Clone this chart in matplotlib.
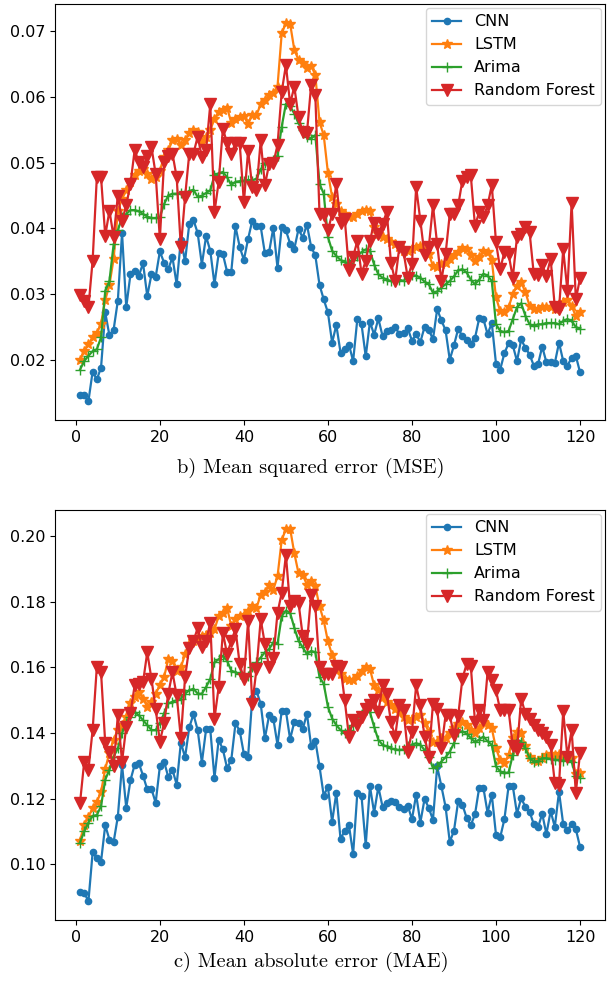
import numpy as np
import matplotlib
matplotlib.use("Agg")
import matplotlib.pyplot as plt

plt.rcParams["font.size"] = 11.5

# time step index
steps = list(range(1, 121))

# b) mean squared error
mse_cnn = [0.0147, 0.0147, 0.0137, 0.0182, 0.0170, 0.0188, 0.0272, 0.0237, 0.0246, 0.0290,
           0.0393, 0.0280, 0.0330, 0.0335, 0.0328, 0.0347, 0.0297, 0.0330, 0.0326, 0.0365,
           0.0348, 0.0338, 0.0356, 0.0315, 0.0383, 0.0350, 0.0407, 0.0413, 0.0393, 0.0345,
           0.0388, 0.0366, 0.0315, 0.0362, 0.0361, 0.0334, 0.0334, 0.0403, 0.0372, 0.0352,
           0.0384, 0.0412, 0.0404, 0.0403, 0.0362, 0.0364, 0.0401, 0.0340, 0.0402, 0.0397,
           0.0377, 0.0369, 0.0399, 0.0386, 0.0406, 0.0372, 0.0359, 0.0314, 0.0292, 0.0272,
           0.0226, 0.0253, 0.0211, 0.0216, 0.0223, 0.0198, 0.0262, 0.0254, 0.0205, 0.0258,
           0.0238, 0.0263, 0.0236, 0.0244, 0.0246, 0.0250, 0.0239, 0.0240, 0.0248, 0.0229,
           0.0239, 0.0227, 0.0250, 0.0246, 0.0231, 0.0277, 0.0260, 0.0245, 0.0200, 0.0222,
           0.0247, 0.0236, 0.0230, 0.0224, 0.0233, 0.0263, 0.0262, 0.0239, 0.0256, 0.0194,
           0.0185, 0.0210, 0.0225, 0.0222, 0.0198, 0.0231, 0.0218, 0.0208, 0.0191, 0.0193,
           0.0220, 0.0196, 0.0196, 0.0195, 0.0226, 0.0198, 0.0191, 0.0203, 0.0206, 0.0181]

mse_lstm = [0.0199, 0.0213, 0.0224, 0.0234, 0.0240, 0.0255, 0.0291, 0.0314, 0.0354, 0.0427,
            0.0445, 0.0458, 0.0471, 0.0481, 0.0488, 0.0491, 0.0483, 0.0476, 0.0478, 0.0488,
            0.0509, 0.0519, 0.0534, 0.0537, 0.0527, 0.0534, 0.0545, 0.0550, 0.0547, 0.0532,
            0.0539, 0.0550, 0.0567, 0.0578, 0.0580, 0.0584, 0.0561, 0.0566, 0.0570, 0.0571,
            0.0559, 0.0573, 0.0573, 0.0589, 0.0596, 0.0603, 0.0607, 0.0616, 0.0697, 0.0713,
            0.0712, 0.0672, 0.0657, 0.0652, 0.0644, 0.0648, 0.0634, 0.0562, 0.0542, 0.0485,
            0.0448, 0.0438, 0.0427, 0.0422, 0.0418, 0.0417, 0.0422, 0.0426, 0.0428, 0.0427,
            0.0402, 0.0392, 0.0387, 0.0384, 0.0380, 0.0376, 0.0371, 0.0366, 0.0366, 0.0369,
            0.0372, 0.0374, 0.0366, 0.0361, 0.0343, 0.0342, 0.0346, 0.0347, 0.0353, 0.0359,
            0.0364, 0.0370, 0.0368, 0.0360, 0.0350, 0.0356, 0.0366, 0.0364, 0.0352, 0.0295,
            0.0274, 0.0273, 0.0280, 0.0300, 0.0313, 0.0318, 0.0303, 0.0282, 0.0277, 0.0277,
            0.0280, 0.0281, 0.0280, 0.0277, 0.0282, 0.0288, 0.0291, 0.0282, 0.0266, 0.0272]

mse_arima = [0.0185, 0.0198, 0.0206, 0.0213, 0.0216, 0.0234, 0.0305, 0.0320, 0.0376, 0.0397,
             0.0417, 0.0422, 0.0428, 0.0428, 0.0426, 0.0422, 0.0418, 0.0416, 0.0416, 0.0417,
             0.0437, 0.0450, 0.0453, 0.0453, 0.0454, 0.0453, 0.0457, 0.0459, 0.0448, 0.0450,
             0.0454, 0.0458, 0.0481, 0.0484, 0.0486, 0.0478, 0.0466, 0.0471, 0.0472, 0.0473,
             0.0474, 0.0473, 0.0476, 0.0490, 0.0499, 0.0501, 0.0504, 0.0511, 0.0555, 0.0590,
             0.0586, 0.0575, 0.0560, 0.0550, 0.0539, 0.0537, 0.0542, 0.0468, 0.0453, 0.0387,
             0.0366, 0.0358, 0.0352, 0.0349, 0.0347, 0.0352, 0.0358, 0.0364, 0.0368, 0.0366,
             0.0345, 0.0330, 0.0325, 0.0322, 0.0320, 0.0320, 0.0322, 0.0320, 0.0327, 0.0329,
             0.0328, 0.0325, 0.0319, 0.0315, 0.0302, 0.0304, 0.0310, 0.0315, 0.0320, 0.0327,
             0.0336, 0.0338, 0.0333, 0.0322, 0.0315, 0.0322, 0.0331, 0.0328, 0.0320, 0.0254,
             0.0244, 0.0242, 0.0244, 0.0262, 0.0280, 0.0286, 0.0267, 0.0254, 0.0251, 0.0254,
             0.0254, 0.0256, 0.0256, 0.0256, 0.0254, 0.0259, 0.0262, 0.0259, 0.0250, 0.0247]

mse_rf = [0.0299, 0.0290, 0.0280, 0.0351, 0.0478, 0.0478, 0.0389, 0.0427, 0.0387, 0.0450,
          0.0412, 0.0435, 0.0468, 0.0519, 0.0501, 0.0494, 0.0510, 0.0524, 0.0483, 0.0384,
          0.0501, 0.0511, 0.0514, 0.0478, 0.0371, 0.0448, 0.0514, 0.0514, 0.0540, 0.0509,
          0.0519, 0.0589, 0.0425, 0.0471, 0.0552, 0.0530, 0.0514, 0.0530, 0.0530, 0.0440,
          0.0518, 0.0463, 0.0459, 0.0534, 0.0466, 0.0498, 0.0499, 0.0527, 0.0608, 0.0649,
          0.0590, 0.0616, 0.0570, 0.0547, 0.0545, 0.0618, 0.0603, 0.0422, 0.0420, 0.0397,
          0.0422, 0.0468, 0.0409, 0.0415, 0.0337, 0.0357, 0.0381, 0.0331, 0.0351, 0.0381,
          0.0409, 0.0392, 0.0407, 0.0425, 0.0348, 0.0320, 0.0372, 0.0364, 0.0325, 0.0346,
          0.0463, 0.0412, 0.0359, 0.0371, 0.0435, 0.0376, 0.0320, 0.0361, 0.0422, 0.0422,
          0.0435, 0.0473, 0.0478, 0.0481, 0.0404, 0.0425, 0.0417, 0.0435, 0.0466, 0.0379,
          0.0338, 0.0364, 0.0361, 0.0325, 0.0387, 0.0392, 0.0402, 0.0394, 0.0330, 0.0329,
          0.0344, 0.0328, 0.0354, 0.0280, 0.0277, 0.0368, 0.0305, 0.0439, 0.0292, 0.0324]

# c) mean absolute error
mae_cnn = [0.0915, 0.0913, 0.0887, 0.1036, 0.1018, 0.1008, 0.1119, 0.1075, 0.1068, 0.1145,
           0.1303, 0.1172, 0.1256, 0.1303, 0.1308, 0.1270, 0.1228, 0.1230, 0.1187, 0.1298,
           0.1313, 0.1266, 0.1288, 0.1243, 0.1371, 0.1326, 0.1417, 0.1457, 0.1409, 0.1310,
           0.1411, 0.1411, 0.1263, 0.1379, 0.1350, 0.1293, 0.1318, 0.1429, 0.1407, 0.1336,
           0.1328, 0.1508, 0.1528, 0.1489, 0.1384, 0.1454, 0.1444, 0.1364, 0.1467, 0.1467,
           0.1381, 0.1434, 0.1431, 0.1411, 0.1459, 0.1361, 0.1377, 0.1298, 0.1209, 0.1236,
           0.1129, 0.1218, 0.1077, 0.1102, 0.1119, 0.1031, 0.1218, 0.1207, 0.1058, 0.1238,
           0.1157, 0.1236, 0.1175, 0.1187, 0.1192, 0.1189, 0.1175, 0.1167, 0.1179, 0.1137,
           0.1212, 0.1127, 0.1199, 0.1172, 0.1135, 0.1298, 0.1238, 0.1175, 0.1068, 0.1102,
           0.1192, 0.1182, 0.1142, 0.1119, 0.1152, 0.1233, 0.1233, 0.1157, 0.1212, 0.1090,
           0.1082, 0.1137, 0.1238, 0.1238, 0.1154, 0.1202, 0.1174, 0.1160, 0.1122, 0.1112,
           0.1154, 0.1092, 0.1162, 0.1114, 0.1221, 0.1122, 0.1104, 0.1122, 0.1107, 0.1053]

mae_lstm = [0.1072, 0.1120, 0.1145, 0.1170, 0.1190, 0.1220, 0.1290, 0.1340, 0.1380, 0.1410,
            0.1425, 0.1450, 0.1490, 0.1510, 0.1525, 0.1505, 0.1480, 0.1495, 0.1520, 0.1545,
            0.1570, 0.1625, 0.1620, 0.1590, 0.1600, 0.1640, 0.1670, 0.1680, 0.1690, 0.1695,
            0.1700, 0.1705, 0.1716, 0.1756, 0.1766, 0.1781, 0.1726, 0.1746, 0.1756, 0.1761,
            0.1773, 0.1786, 0.1781, 0.1822, 0.1830, 0.1852, 0.1837, 0.1877, 0.1988, 0.2021,
            0.2023, 0.1948, 0.1887, 0.1882, 0.1852, 0.1864, 0.1847, 0.1786, 0.1743, 0.1679,
            0.1638, 0.1605, 0.1580, 0.1565, 0.1560, 0.1562, 0.1575, 0.1590, 0.1600, 0.1595,
            0.1545, 0.1530, 0.1510, 0.1494, 0.1484, 0.1474, 0.1464, 0.1449, 0.1439, 0.1444,
            0.1449, 0.1454, 0.1429, 0.1404, 0.1374, 0.1374, 0.1384, 0.1384, 0.1399, 0.1414,
            0.1427, 0.1434, 0.1424, 0.1409, 0.1399, 0.1414, 0.1434, 0.1424, 0.1414, 0.1353,
            0.1318, 0.1308, 0.1333, 0.1384, 0.1404, 0.1399, 0.1359, 0.1328, 0.1318, 0.1315,
            0.1323, 0.1333, 0.1335, 0.1333, 0.1335, 0.1331, 0.1335, 0.1323, 0.1275, 0.1278]

mae_arima = [0.1066, 0.1100, 0.1127, 0.1147, 0.1150, 0.1177, 0.1258, 0.1288, 0.1328, 0.1353,
             0.1400, 0.1430, 0.1450, 0.1464, 0.1454, 0.1439, 0.1424, 0.1409, 0.1409, 0.1430,
             0.1460, 0.1490, 0.1495, 0.1500, 0.1505, 0.1520, 0.1530, 0.1535, 0.1520, 0.1520,
             0.1540, 0.1565, 0.1615, 0.1625, 0.1635, 0.1620, 0.1590, 0.1585, 0.1580, 0.1575,
             0.1575, 0.1600, 0.1615, 0.1630, 0.1646, 0.1656, 0.1676, 0.1671, 0.1756, 0.1773,
             0.1766, 0.1721, 0.1681, 0.1661, 0.1640, 0.1650, 0.1646, 0.1570, 0.1550, 0.1480,
             0.1444, 0.1424, 0.1409, 0.1399, 0.1409, 0.1424, 0.1444, 0.1459, 0.1469, 0.1464,
             0.1419, 0.1379, 0.1364, 0.1359, 0.1353, 0.1350, 0.1348, 0.1350, 0.1359, 0.1364,
             0.1369, 0.1364, 0.1348, 0.1328, 0.1293, 0.1298, 0.1313, 0.1326, 0.1343, 0.1369,
             0.1402, 0.1405, 0.1398, 0.1385, 0.1372, 0.1380, 0.1389, 0.1375, 0.1364, 0.1298,
             0.1283, 0.1277, 0.1280, 0.1333, 0.1379, 0.1374, 0.1353, 0.1323, 0.1313, 0.1315,
             0.1323, 0.1323, 0.1321, 0.1318, 0.1318, 0.1315, 0.1318, 0.1313, 0.1268, 0.1263]

mae_rf = [0.1187, 0.1313, 0.1288, 0.1409, 0.1602, 0.1585, 0.1369, 0.1343, 0.1298, 0.1454,
          0.1313, 0.1419, 0.1460, 0.1545, 0.1550, 0.1555, 0.1646, 0.1565, 0.1474, 0.1374,
          0.1429, 0.1520, 0.1585, 0.1515, 0.1384, 0.1570, 0.1660, 0.1680, 0.1720, 0.1661,
          0.1681, 0.1736, 0.1444, 0.1540, 0.1706, 0.1640, 0.1681, 0.1716, 0.1610, 0.1565,
          0.1741, 0.1489, 0.1595, 0.1746, 0.1671, 0.1600, 0.1630, 0.1766, 0.1827, 0.1943,
          0.1786, 0.1802, 0.1797, 0.1696, 0.1671, 0.1822, 0.1786, 0.1600, 0.1580, 0.1580,
          0.1580, 0.1605, 0.1600, 0.1500, 0.1389, 0.1439, 0.1424, 0.1449, 0.1474, 0.1484,
          0.1500, 0.1464, 0.1545, 0.1520, 0.1434, 0.1389, 0.1484, 0.1469, 0.1343, 0.1404,
          0.1545, 0.1484, 0.1389, 0.1328, 0.1489, 0.1474, 0.1353, 0.1454, 0.1454, 0.1394,
          0.1452, 0.1565, 0.1610, 0.1605, 0.1434, 0.1469, 0.1439, 0.1585, 0.1560, 0.1530,
          0.1469, 0.1469, 0.1469, 0.1360, 0.1350, 0.1505, 0.1459, 0.1444, 0.1424, 0.1409,
          0.1399, 0.1389, 0.1364, 0.1248, 0.1243, 0.1466, 0.1328, 0.1409, 0.1218, 0.1338]

labels = ["CNN", "LSTM", "Arima", "Random Forest"]
styles = [("o", 4.5), ("*", 7.5), ("+", 7.5), ("v", 9)]


def draw(ax, series):
    for vals, lab, (mk, ms) in zip(series, labels, styles):
        ax.plot(steps, vals, marker=mk, markersize=ms, linewidth=1.6, label=lab)
    ax.legend(loc="upper right", borderaxespad=0.25, handlelength=1.8)


fig = plt.figure(figsize=(6.08, 9.89), dpi=100)

ax1 = fig.add_axes([0.0905, 0.5753, 0.9046, 0.4206])
draw(ax1, [mse_cnn, mse_lstm, mse_arima, mse_rf])

ax2 = fig.add_axes([0.0905, 0.0698, 0.9046, 0.4146])
draw(ax2, [mae_cnn, mae_lstm, mae_arima, mae_rf])

fig.text(311 / 608, 1 - 468 / 989, "b) Mean squared error (MSE)",
         family="cmr10", fontsize=14.7, ha="center", va="center")
fig.text(311 / 608, 1 - 962 / 989, "c) Mean absolute error (MAE)",
         family="cmr10", fontsize=14.7, ha="center", va="center")

fig.savefig("out.png", dpi=100)
